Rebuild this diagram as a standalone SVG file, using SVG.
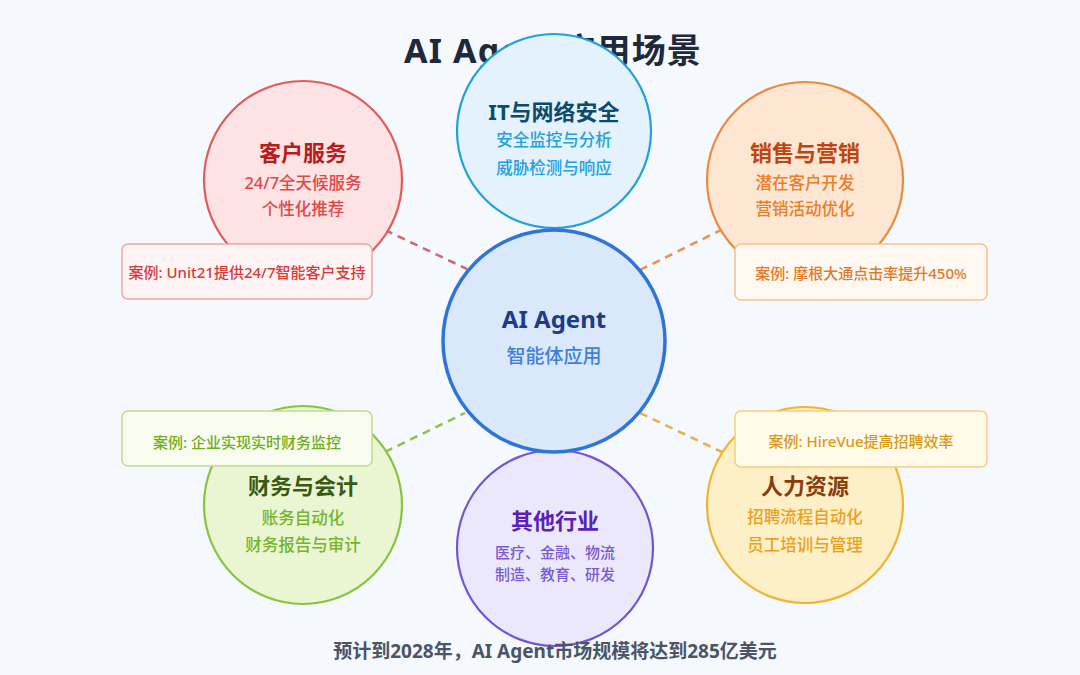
<svg xmlns="http://www.w3.org/2000/svg" width="1080" height="675" viewBox="0 0 1080 675">
  <style>
    text { font-family: "Noto Sans", "Noto Sans CJK SC", sans-serif; text-anchor: middle; }
    .title { font-size: 34px; font-weight: 700; fill: #1e293b; letter-spacing: 1.2px; }
    .ntitle { font-size: 22px; font-weight: 700; }
    .nsub { font-size: 16.5px; font-weight: 500; }
    .case { font-size: 15px; font-weight: 500; }
    .foot { font-size: 19px; font-weight: 700; fill: #4b5567; }
    .node circle { stroke-width: 2.2; }
    .box { stroke-width: 1.5; }
    .conn line { stroke-width: 2.5; stroke-dasharray: 8 6; fill: none; }
  </style>
  <rect x="0" y="0" width="1080" height="675" fill="#f5f8fc"/>

  <text class="title" x="553" y="63">AI Agent应用场景</text>

  <g id="connectors" class="conn">
    <line x1="385" y1="230" x2="467" y2="269" stroke="#c0505a" stroke-opacity="0.85"/>
    <line x1="640" y1="270" x2="721" y2="230" stroke="#e8833a" stroke-opacity="0.9"/>
    <line x1="385" y1="452" x2="465" y2="413" stroke="#86b93a" stroke-opacity="0.9"/>
    <line x1="640" y1="413" x2="722" y2="452" stroke="#e4a53a" stroke-opacity="0.9"/>
  </g>

  <g id="node-it" class="node">
    <circle cx="554" cy="131" r="97" fill="#e3f2fc" stroke="#1fa0da"/>
    <text class="ntitle" x="554" y="120" fill="#0c4a6e">IT与网络安全</text>
    <text class="nsub" x="554" y="146" fill="#22a0dc">安全监控与分析</text>
    <text class="nsub" x="554" y="174" fill="#22a0dc">威胁检测与响应</text>
  </g>

  <g id="node-customer" class="node">
    <circle cx="303" cy="180" r="99" fill="#fde3e3" stroke="#e15a5c"/>
    <text class="ntitle" x="303" y="161" fill="#b91c1c">客户服务</text>
    <text class="nsub" x="303" y="189" fill="#df4848">24/7全天候服务</text>
    <text class="nsub" x="303" y="215" fill="#df4848">个性化推荐</text>
    <rect class="box" x="122" y="244" width="250" height="55" rx="6" fill="#fff4f4" stroke="#f0a4a4"/>
    <text class="case" x="247" y="278" fill="#d63a3a">案例: Unit21提供24/7智能客户支持</text>
  </g>

  <g id="node-sales" class="node">
    <circle cx="805" cy="180" r="98" fill="#fde7d2" stroke="#ea8a3e"/>
    <text class="ntitle" x="805" y="161" fill="#bf4510">销售与营销</text>
    <text class="nsub" x="805" y="189" fill="#ec7c28">潜在客户开发</text>
    <text class="nsub" x="805" y="215" fill="#ec7c28">营销活动优化</text>
    <rect class="box" x="735" y="244" width="252" height="56" rx="6" fill="#fff8f0" stroke="#f3c18e"/>
    <text class="case" x="861" y="279" fill="#e07a2a">案例: 摩根大通点击率提升450%</text>
  </g>

  <g id="node-finance" class="node">
    <circle cx="303" cy="505" r="99" fill="#eaf6d2" stroke="#86c440"/>
    <text class="ntitle" x="303" y="494" fill="#3a5a12">财务与会计</text>
    <text class="nsub" x="303" y="524" fill="#77b42a">账务自动化</text>
    <text class="nsub" x="303" y="551" fill="#77b42a">财务报告与审计</text>
    <rect class="box" x="122" y="411" width="250" height="55" rx="6" fill="#f8fcef" stroke="#bddc90"/>
    <text class="case" x="247" y="448" fill="#71ad22">案例: 企业实现实时财务监控</text>
  </g>

  <g id="node-hr" class="node">
    <circle cx="805" cy="505" r="98" fill="#fdefc6" stroke="#f0b430"/>
    <text class="ntitle" x="805" y="494" fill="#8a3c0e">人力资源</text>
    <text class="nsub" x="805" y="523" fill="#e9a220">招聘流程自动化</text>
    <text class="nsub" x="805" y="551" fill="#e9a220">员工培训与管理</text>
    <rect class="box" x="735" y="411" width="252" height="56" rx="6" fill="#fffaea" stroke="#f2d07e"/>
    <text class="case" x="861" y="447" fill="#d89a17">案例: HireVue提高招聘效率</text>
  </g>

  <g id="node-other" class="node">
    <circle cx="555" cy="548" r="98" fill="#ece8fb" stroke="#7355d0"/>
    <text class="ntitle" x="555" y="529" fill="#5b21b6">其他行业</text>
    <text class="nsub" x="555" y="558" fill="#7a5ad0" style="font-size:15px">医疗、金融、物流</text>
    <text class="nsub" x="555" y="580" fill="#7a5ad0" style="font-size:15px">制造、教育、研发</text>
  </g>

  <g id="node-center" class="node">
    <circle cx="554" cy="341" r="111" fill="#d9e8fb" stroke="#2f74d6" style="stroke-width:3.5"/>
    <text x="554" y="328" fill="#1e3a8a" style="font-size:24px;font-weight:700">AI Agent</text>
    <text x="554" y="363" fill="#3f7fdc" style="font-size:19px;font-weight:500">智能体应用</text>
  </g>

  <text class="foot" x="555" y="658">预计到2028年，AI Agent市场规模将达到285亿美元</text>
</svg>
